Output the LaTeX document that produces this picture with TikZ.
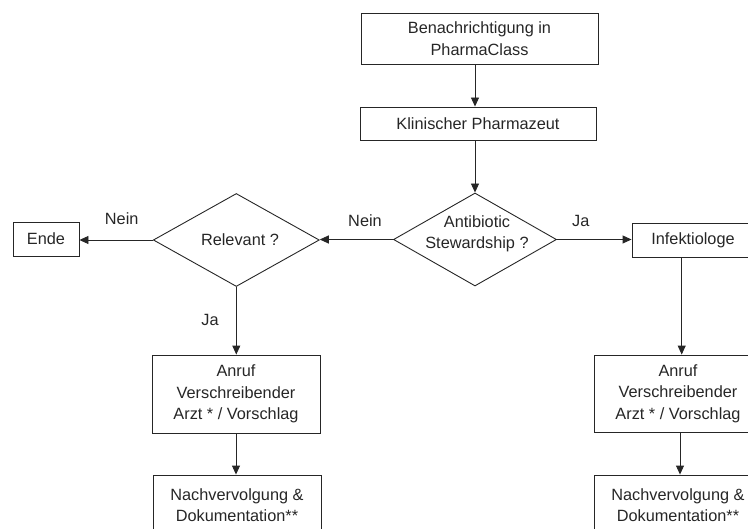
\documentclass[tikz,border=0pt]{standalone}
\usepackage{fontspec}
\setmainfont{Liberation Sans}
\usetikzlibrary{arrows.meta,shapes.geometric}
\begin{document}
\begin{tikzpicture}[x=1bp,y=-1bp,
  every node/.style={font=\fontsize{16.3bp}{21.5bp}\selectfont, text=black!85},
  box/.style={draw=black!85, line width=0.9bp, inner sep=0pt, align=center},
  dia/.style={draw=black!85, diamond, line width=0.9bp, inner sep=0pt},
  arr/.style={draw=black!85, line width=0.9bp, -{Triangle[length=9bp,width=8bp]}},
  lbl/.style={inner sep=0pt}]
\useasboundingbox (0,0) rectangle (748,529);
\clip (0,0) rectangle (748,529);
\node[box, minimum width=237bp, minimum height=51bp] (benach) at (479.5,38.5) {Benachrichtigung in\\PharmaClass};
\node[box, minimum width=236bp, minimum height=33bp] (kp) at (478,123.5) {Klinischer Pharmazeut};
\node[dia, minimum width=163bp, minimum height=93bp] (d1) at (475,239.5) {};
\node[lbl, align=center] (d1t) at (477,234) {Antibiotic\\Stewardship ?};
\node[dia, minimum width=166bp, minimum height=93bp] (d2) at (236.3,240) {};
\node[lbl] (d2t) at (240,240) {Relevant ?};
\node[box, minimum width=66bp, minimum height=34bp] (ende) at (46,239) {Ende};
\node[box, minimum width=122bp, minimum height=34bp] (infekt) at (693,240) {Infektiologe};
\node[box, minimum width=168bp, minimum height=78bp] (anrufL) at (236,394) {Anruf\\Verschreibender\\Arzt * / Vorschlag};
\node[box, minimum width=168bp, minimum height=77bp] (anrufR) at (678,393.5) {Anruf\\Verschreibender\\Arzt * / Vorschlag};
\node[box, minimum width=168bp, minimum height=60bp] (nachL) at (237,505) {Nachvervolgung \&\\Dokumentation**};
\node[box, minimum width=168bp, minimum height=60bp] (nachR) at (678,505) {Nachvervolgung \&\\Dokumentation**};
\node[lbl] (nein1) at (365,221) {Nein};
\node[lbl] (ja1) at (580.7,221) {Ja};
\node[lbl] (nein2) at (121.7,219) {Nein};
\node[lbl] (ja2) at (210,320) {Ja};
\coordinate (rx) at (681.7,0);
\coordinate (rx2) at (680,0);
\draw[arr] (benach.south -| d1.north) -- (kp.north -| d1.north);
\draw[arr] (kp.south -| d1.north) -- (d1.north);
\draw[arr] (d1.west) -- (d2.east |- d1.west);
\draw[arr] (d2.west) -- (d2.west -| ende.east);
\draw[arr] (d1.east) -- (d1.east -| infekt.west);
\draw[arr] (d2.south) -- (anrufL.north -| d2.south);
\draw[arr] (infekt.south -| rx) -- (anrufR.north -| rx);
\draw[arr] (anrufL.south) -- (nachL.north -| anrufL.south);
\draw[arr] (anrufR.south -| rx2) -- (nachR.north -| rx2);
\end{tikzpicture}
\end{document}
